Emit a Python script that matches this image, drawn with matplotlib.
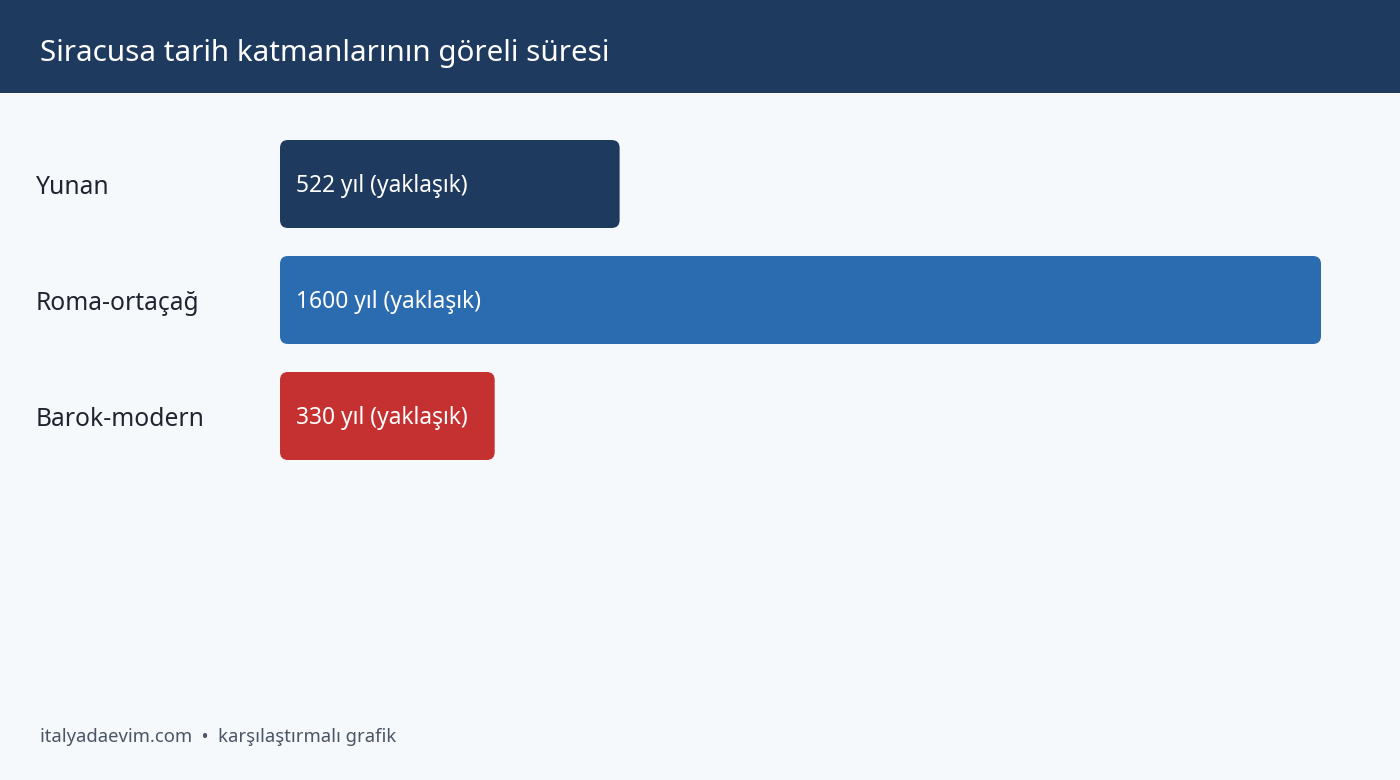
import matplotlib
matplotlib.use("Agg")
import matplotlib.pyplot as plt
import matplotlib.transforms as mtransforms
from matplotlib.patches import FancyBboxPatch, Rectangle

plt.rcParams['font.family'] = ['Noto Sans', 'DejaVu Sans']

# data
periods = ["Yunan", "Roma-ortaçağ", "Barok-modern"]
years = [522, 1600, 330]
bar_labels = ["522 yıl (yaklaşık)", "1600 yıl (yaklaşık)", "330 yıl (yaklaşık)"]
colors = ["#1f3a5f", "#2b6cb0", "#c53030"]

title = "Siracusa tarih katmanlarının göreli süresi"
footer = "italyadaevim.com  •  karşılaştırmalı grafik"

W, H = 1400, 780
bg = "#f5f9fc"

fig = plt.figure(figsize=(W / 100, H / 100), dpi=100, facecolor=bg)

# header band
fig.patches.append(Rectangle((0, 1 - 93 / H), 1, 93 / H, transform=fig.transFigure,
                             facecolor="#1f3a5f", edgecolor="none", zorder=0))
fig.text(40 / W, 1 - 54 / H, title, color="white", fontsize=21.3, va="center", ha="left")

# axes: x 0..1600 maps to px 280..1321, rows spaced 116 px centered on 184/300/416
px_per_row = 116
ylim = (2.6, -0.6)
ax_h = (ylim[0] - ylim[1]) * px_per_row
ax_top = 300 - ax_h / 2
ax = fig.add_axes([280 / W, 1 - (ax_top + ax_h) / H, (1321 - 280) / W, ax_h / H])
ax.set_facecolor("none")
ax.set_xlim(0, 1600)
ax.set_ylim(*ylim)
ax.axis("off")

x_per_px = 1600 / (1321 - 280)
y_per_px = 1 / px_per_row
bar_h = 88 / px_per_row
r_px = 8
shift_pt = -2.5 * 0.72  # nudge text down a little

for i, (name, val, lab, c) in enumerate(zip(periods, years, bar_labels, colors)):
    patch = FancyBboxPatch((0, i - bar_h / 2), val, bar_h,
                           boxstyle=f"round,pad=0,rounding_size={r_px * x_per_px}",
                           mutation_aspect=y_per_px / x_per_px,
                           facecolor=c, edgecolor="none")
    ax.add_patch(patch)
    ax.annotate(lab, (0, i), xytext=(16 * 0.72, shift_pt), textcoords="offset points",
                color="white", fontsize=16.4, va="center", ha="left")

trans = mtransforms.blended_transform_factory(fig.transFigure, ax.transData)
for i, name in enumerate(periods):
    ax.annotate(name, (36 / W, i), xycoords=trans, xytext=(0, shift_pt * 1.4),
                textcoords="offset points", color="#1f2430", fontsize=17.7,
                va="center", ha="left")

fig.text(40 / W, 1 - 737 / H, footer, color="#4a5565", fontsize=13.3, va="center", ha="left")

fig.savefig("out.png", dpi=100, facecolor=bg)
